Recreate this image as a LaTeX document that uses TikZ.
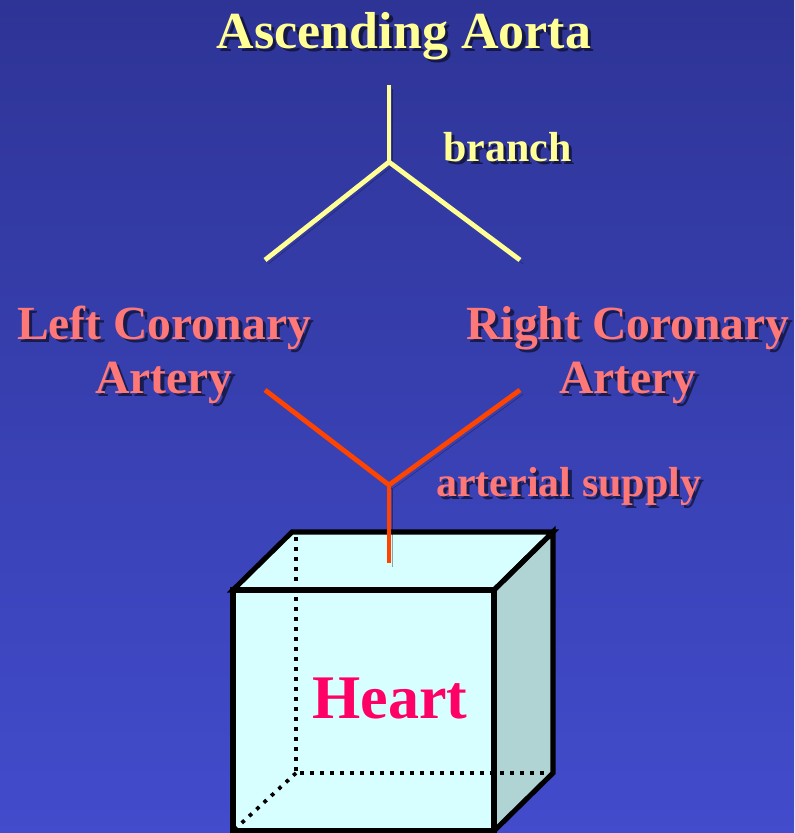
\documentclass[tikz,border=0pt]{standalone}
\usepackage{fontspec}
\setmainfont{Liberation Serif}
\usepackage{tikz}
\usetikzlibrary{calc}
\usepackage{xcolor}
\definecolor{bgtop}{RGB}{46,52,150}
\definecolor{bgbot}{RGB}{66,76,204}
\definecolor{hyellow}{RGB}{255,255,150}
\definecolor{hsalmon}{RGB}{255,120,120}
\definecolor{horange}{RGB}{255,68,0}
\definecolor{hpink}{RGB}{255,0,102}
\definecolor{cubefront}{RGB}{216,255,255}
\definecolor{cubeside}{RGB}{176,212,212}
% label with a soft drop shadow
\newcommand\shlabel[4]{%
  \node[#2,text=black,text opacity=.55] at ($#3+(3.5,3.5)$) {#4};
  \node[#2] (#1) at #3 {#4};}

\begin{document}
\begin{tikzpicture}[x=0.75pt,y=-0.75pt,
  every node/.style={inner sep=0pt,font=\bfseries},
  title/.style={font=\bfseries\fontsize{39}{47}\selectfont,text=hyellow},
  vessel/.style={font=\bfseries\fontsize{35.7}{40.5}\selectfont,text=hsalmon,align=center},
  verb/.style={font=\bfseries\fontsize{31.5}{38}\selectfont},
  pipe/.style={line width=3.6pt,line cap=butt,
    preaction={draw=black,opacity=.35,transform canvas={shift={(2.5pt,-3pt)}}}},
  edge/.style={line width=3.8pt,line join=miter},
  hidden/.style={line width=2.8pt,dash pattern=on 2.8pt off 4.7pt}]
  \useasboundingbox (0,0) rectangle (794,833);
  \fill[top color=bgtop,bottom color=bgbot] (0,0) rectangle (794,833);

  % heart cube
  \coordinate (fa) at (233,590); \coordinate (fb) at (494,590);
  \coordinate (fc) at (494,831); \coordinate (fd) at (233,831);
  \coordinate (ba) at (292,532); \coordinate (bb) at (553,532);
  \coordinate (bc) at (553,773); \coordinate (bd) at (296,773);
  \fill[cubefront] (fa)--(ba)--(bb)--(fb)--cycle;
  \fill[cubeside] (fb)--(bb)--(bc)--(fc)--cycle;
  \fill[cubefront] (fa) rectangle (fc);
  \draw[hidden] (296,537)--(bd)--(549,773);
  \draw[hidden] (bd)--(fd);
  \draw[edge] (fa)--(ba)--(bb)--(fb)--cycle;
  \draw[edge] (fb)--(bb)--(bc)--(fc)--cycle;
  \draw[edge] (fa) rectangle (fc);
  \node[font=\bfseries\fontsize{46.5}{56}\selectfont,text=hpink,anchor=base] (heart) at (390,718) {Heart};

  % branching vessels
  \coordinate (aortastem) at (389,85);  \coordinate (aortafork) at (389,162);
  \coordinate (lcatip) at (265,260);    \coordinate (rcatip) at (520,260);
  \coordinate (lcafrom) at (265,390);   \coordinate (rcafrom) at (520,390);
  \coordinate (supplyfork) at (389,485); \coordinate (heartin) at (389,563);
  \draw[pipe,draw=hyellow] (aortastem)--(aortafork);
  \draw[pipe,draw=hyellow] (lcatip)--(aortafork)--(rcatip);
  \draw[pipe,draw=horange] (lcafrom)--(supplyfork)--(rcafrom);
  \draw[pipe,draw=horange] (supplyfork)--(heartin);

  \shlabel{aorta}{title,anchor=base}{(404,48)}{Ascending Aorta}
  \shlabel{branch}{verb,text=hyellow,anchor=base west}{(443,161)}{branch}
  \shlabel{lca}{vessel,anchor=base}{(164,393)}{Left Coronary\\Artery}
  \shlabel{rca}{vessel,anchor=base}{(628,393)}{Right Coronary\\Artery}
  \shlabel{supply}{verb,text=hsalmon,anchor=base west}{(436,496)}{arterial supply}
\end{tikzpicture}
\end{document}
